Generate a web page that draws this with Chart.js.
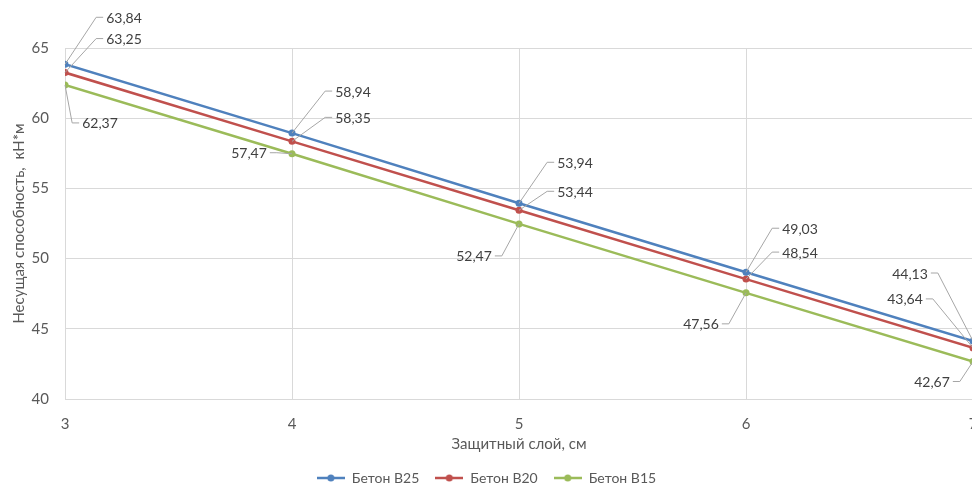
<!DOCTYPE html>
<html>
<head>
<meta charset="utf-8">
<script src="https://cdn.jsdelivr.net/npm/chart.js@4.4.1/dist/chart.umd.min.js"></script>
<style>
html,body{margin:0;padding:0;background:#fff;overflow:hidden;}
#wrap{width:1000px;height:495px;position:relative;}
</style>
</head>
<body>
<div id="wrap"><canvas id="c"></canvas></div>
<script>
// ---- data ----
const categories = [3, 4, 5, 6, 7];
const seriesNames = ['Бетон B25', 'Бетон B20', 'Бетон B15'];
const b25 = [63.84, 58.94, 53.94, 49.03, 44.13];
const b20 = [63.25, 58.35, 53.44, 48.54, 43.64];
const b15 = [62.37, 57.47, 52.47, 47.56, 42.67];
const yTicks = [40, 45, 50, 55, 60, 65];
const xTitle = 'Защитный слой, см';
const yTitle = 'Несущая способность,  кН*м';

// ---- styling / layout (not data) ----
const colors = ['#4F81BD', '#C0504D', '#9BBB59'];
// data label offsets (px) from the point to the label centre
const labelOffsets = [
  [[59,-47],[61,-42],[56,-41],[54,-44],[-63,-68]],
  [[59,-34],[61,-24],[56,-19],[54,-27],[-68,-49]],
  [[35,38],[-43,-1],[-45,32],[-45,31],[-41,20]]
];
const FONT = 'Lato, "Liberation Sans", sans-serif';

function legendImg(color){
  const c = document.createElement('canvas');
  c.width = 28; c.height = 10;
  const g = c.getContext('2d');
  g.strokeStyle = color; g.lineWidth = 2.5;
  g.beginPath(); g.moveTo(0,5); g.lineTo(28,5); g.stroke();
  g.fillStyle = color; g.beginPath(); g.arc(14,5,3.5,0,Math.PI*2); g.fill();
  return c;
}

const seriesData = [b25, b20, b15];
const datasets = seriesData.map((vals, i) => ({
  label: seriesNames[i],
  data: categories.map((x, j) => ({x: x, y: vals[j]})),
  borderColor: colors[i],
  backgroundColor: colors[i],
  borderWidth: 2.5,
  pointRadius: 3.5,
  pointHoverRadius: 3.5,
  pointBorderWidth: 0,
  pointStyle: 'circle',
  tension: 0
}));

const fmt = v => v.toFixed(2).replace('.', ',');

const labelPlugin = {
  id: 'dataLabels',
  afterDatasetsDraw(chart){
    const ctx = chart.ctx;
    ctx.save();
    ctx.font = '14px ' + FONT;
    ctx.textBaseline = 'middle';
    chart.data.datasets.forEach((ds, i) => {
      const meta = chart.getDatasetMeta(i);
      meta.data.forEach((pt, j) => {
        const off = labelOffsets[i][j];
        const txt = fmt(seriesData[i][j]);
        const w = ctx.measureText(txt).width;
        const cx = pt.x + off[0], cy = pt.y + off[1];
        const left = cx - w/2, right = cx + w/2;
        ctx.strokeStyle = '#A6A6A6';
        ctx.lineWidth = 1;
        ctx.beginPath();
        if (off[0] >= 0) {
          ctx.moveTo(pt.x, pt.y);
          ctx.lineTo(left - 10, cy);
          ctx.lineTo(left - 3, cy);
        } else {
          ctx.moveTo(pt.x, pt.y);
          ctx.lineTo(right + 10, cy);
          ctx.lineTo(right + 3, cy);
        }
        ctx.stroke();
        ctx.fillStyle = '#404040';
        ctx.textAlign = 'center';
        ctx.fillText(txt, cx, cy + 1);
      });
    });
    ctx.restore();
  }
};

new Chart(document.getElementById('c'), {
  type: 'line',
  data: { datasets },
  plugins: [labelPlugin],
  options: {
    responsive: true,
    maintainAspectRatio: false,
    animation: false,
    events: [],
    layout: { padding: { left: 0, right: 27, top: 48, bottom: 0 } },
    plugins: {
      tooltip: { enabled: false },
      legend: {
        position: 'bottom',
        labels: {
          font: { family: FONT, size: 14 },
          color: '#595959',
          usePointStyle: true,
          pointStyleWidth: 28,
          boxHeight: 10,
          padding: 16,
          generateLabels(chart){
            return chart.data.datasets.map((ds, i) => ({
              text: ds.label,
              pointStyle: legendImg(colors[i]),
              fillStyle: colors[i],
              strokeStyle: colors[i],
              lineWidth: 0,
              hidden: false,
              datasetIndex: i,
              fontColor: '#595959'
            }));
          }
        }
      }
    },
    scales: {
      x: {
        type: 'linear',
        min: categories[0],
        max: categories[categories.length - 1],
        afterBuildTicks(scale){ scale.ticks = categories.map(v => ({value: v})); },
        ticks: { font: { family: FONT, size: 15 }, color: '#595959', padding: 16 },
        grid: { color: '#D9D9D9', lineWidth: 1, drawTicks: false },
        border: { color: '#D9D9D9' },
        title: { display: true, text: xTitle, font: { family: FONT, size: 15 }, color: '#595959', padding: { top: 0, bottom: 2 } },
        afterFit(scale){ scale.height = 56; }
      },
      y: {
        min: yTicks[0],
        max: yTicks[yTicks.length - 1],
        afterBuildTicks(scale){ scale.ticks = yTicks.map(v => ({value: v})); },
        ticks: { font: { family: FONT, size: 15 }, color: '#595959', padding: 16 },
        grid: { color: '#D9D9D9', lineWidth: 1, drawTicks: false },
        border: { display: false },
        title: { display: true, text: yTitle, font: { family: FONT, size: 15 }, color: '#595959', padding: { top: 10, bottom: 0 } },
        afterFit(scale){ scale.width = 65; }
      }
    }
  }
});
</script>
</body>
</html>
